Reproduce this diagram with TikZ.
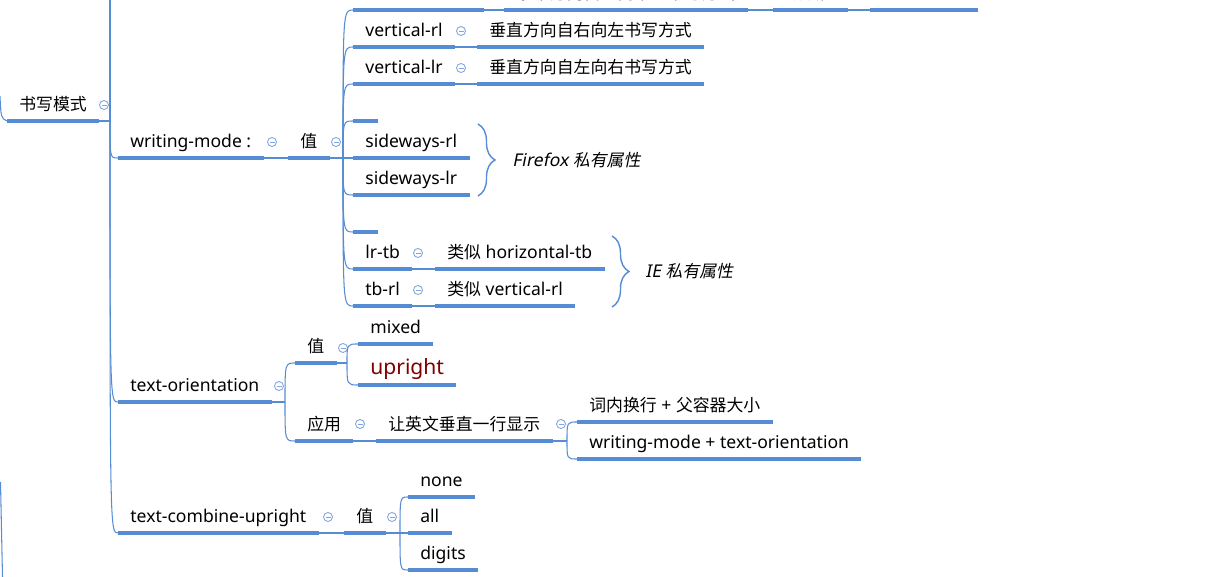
\documentclass[tikz,border=0pt]{standalone}
\usepackage{fontspec}
\setmainfont{Noto Sans}
\newfontfamily\cjk{Noto Sans CJK SC}[Scale=0.96]
\newfontfamily\cjkslant{Noto Sans CJK SC}[Scale=0.96, FakeSlant=0.2]
\newfontfamily\latslant{Noto Sans}[FakeSlant=0.2]
\usetikzlibrary{decorations.pathreplacing}
\definecolor{mapblue}{RGB}{86,140,212}
\definecolor{foldblue}{RGB}{130,165,225}
\definecolor{upred}{RGB}{128,0,0}
\newcommand{\zh}[1]{{\cjk #1}}

\begin{document}
\begin{tikzpicture}[
  x=0.02cm, y=-0.02cm,
  font=\fontsize{10}{12}\selectfont,
  topic/.style={anchor=south west, inner xsep=0.24cm, inner ysep=0.1cm,
                text height=0.3cm, text depth=0.1cm},
  blank/.style={topic, minimum width=0.44cm},
  uline/.style={draw=mapblue, line width=2.2pt},
  link/.style={draw=mapblue, line width=0.6pt},
  fold/.style={circle, draw=foldblue, line width=0.5pt, minimum size=0.18cm, inner sep=0pt,
               path picture={\draw[foldblue, line width=0.5pt]
                 ([xshift=-0.05cm]path picture bounding box.center) --
                 ([xshift=0.05cm]path picture bounding box.center);}},
  brace/.style={draw=mapblue, line width=0.8pt, decorate,
                decoration={brace, amplitude=0.34cm, aspect=0.5}},
  note/.style={anchor=west, inner sep=0pt}
]
\useasboundingbox (0,0) rectangle (1232,577);

% branch 书写模式
\node[topic] (root) at (7,121) {\zh{书写模式}};
\node[fold] (froot) at (104,105) {};
\coordinate (j1) at (110,121);
\coordinate (up1) at (110,-5);
\coordinate (in1) at (0,96);
\coordinate (in2) at (0.5,482);
\coordinate (in3) at (2.5,577);

% writing-mode
\node[topic] (wm) at (118,158) {writing-mode :};
\node[fold] (fwm) at (272,142) {};
\node[topic] (val1) at (288,158) {\zh{值}};
\node[fold] (fval1) at (336,142) {};
\coordinate (j3) at (343,158);

\node[topic] (ht) at (353,10) {horizontal-tb};
\node[topic] (htd) at (504,10) {\zh{水平方向自上而下的书写方式}};
\node[topic] (htdef) at (773,10) {\zh{默认值}};
\node[topic, minimum width=2.14cm] (htx) at (870,10) {};

\node[topic] (vrl) at (353,47) {vertical-rl};
\node[fold] (fvrl) at (461,31) {};
\node[topic] (vrld) at (477,47) {\zh{垂直方向自右向左书写方式}};
\node[topic] (vlr) at (353,84) {vertical-lr};
\node[fold] (fvlr) at (461,68) {};
\node[topic] (vlrd) at (477,84) {\zh{垂直方向自左向右书写方式}};
\node[blank] (e1) at (353,121) {};
\node[topic] (srl) at (353,158) {sideways-rl};
\node[topic] (slr) at (353,195) {sideways-lr};
\node[blank] (e2) at (353,232) {};
\node[topic] (lrtb) at (353,269) {lr-tb};
\node[fold] (flrtb) at (418,253) {};
\node[topic] (lrtbd) at (435,269) {\zh{类似} horizontal-tb};
\node[topic] (tbrl) at (353,306) {tb-rl};
\node[fold] (ftbrl) at (418,290) {};
\node[topic] (tbrld) at (435,306) {\zh{类似} vertical-rl};

\coordinate (bff1) at (478,124);
\coordinate (bff2) at (478,196);
\node[note] (ff) at (512,160) {{\latslant Firefox} {\cjkslant 私有属性}};
\coordinate (bie1) at (612,236);
\coordinate (bie2) at (612,307);
\node[note] (ie) at (645,271) {{\latslant IE} {\cjkslant 私有属性}};

% text-orientation
\node[topic] (to) at (118,402) {text-orientation};
\node[fold] (fto) at (279,386) {};
\coordinate (j4) at (285,402);
\node[topic] (val2) at (295,363) {\zh{值}};
\node[fold] (fval2) at (343,348) {};
\coordinate (j5) at (347,363);
\node[topic] (mixed) at (358,344) {mixed};
\node[topic, font=\fontsize{12}{14}\selectfont, text=upred] (upright) at (358,385) {upright};
\node[topic] (app) at (295,441) {\zh{应用}};
\node[fold] (fapp) at (360,424) {};
\node[topic] (show) at (376,441) {\zh{让英文垂直一行显示}};
\node[fold] (fshow) at (561,424) {};
\coordinate (j6) at (567,441);
\node[topic] (c1) at (577,422) {\zh{词内换行} + \zh{父容器大小}};
\node[topic] (c2) at (577,459) {writing-mode + text-orientation};

% text-combine-upright
\node[topic] (tcu) at (118,533) {text-combine-upright};
\node[fold] (ftcu) at (328,517) {};
\node[topic] (val3) at (344,533) {\zh{值}};
\node[fold] (fval3) at (392,517) {};
\coordinate (j7) at (400,533);
\node[topic] (none) at (408,497) {none};
\node[topic] (all) at (408,533) {all};
\node[topic] (digits) at (408,570) {digits};

% underlines
\foreach \n in {root,wm,val1,ht,htd,htdef,htx,vrl,vrld,vlr,vlrd,e1,srl,slr,e2,
                lrtb,lrtbd,tbrl,tbrld,to,val2,mixed,upright,app,show,c1,c2,
                tcu,val3,none,all,digits}
  \draw[uline] (\n.south west) -- (\n.south east);

% connectors
\draw[link] (in1) .. controls (1,118) .. (root.south west);
\draw[link] (in2) -- (in3);
\draw[link] (root.south east) -- (j1);
\draw[link] (j1) -- (up1);
\foreach \n in {wm,to,tcu}
  \draw[link] (j1) .. controls (j1 |- \n.south west) .. (\n.south west);
\draw[link] (wm.south east) -- (val1.south west);
\draw[link] (val1.south east) -- (j3);
\foreach \n in {ht,vrl,vlr,e1,srl,slr,e2,lrtb,tbrl}
  \draw[link] (j3) .. controls (j3 |- \n.south west) .. (\n.south west);
\draw[link] (ht.south east) -- (htd.south west);
\draw[link] (htd.south east) -- (htdef.south west);
\draw[link] (htdef.south east) -- (htx.south west);
\draw[link] (vrl.south east) -- (vrld.south west);
\draw[link] (vlr.south east) -- (vlrd.south west);
\draw[link] (lrtb.south east) -- (lrtbd.south west);
\draw[link] (tbrl.south east) -- (tbrld.south west);
\draw[brace] (bff1) -- (bff2);
\draw[brace] (bie1) -- (bie2);

\draw[link] (to.south east) -- (j4);
\foreach \n in {val2,app}
  \draw[link] (j4) .. controls (j4 |- \n.south west) .. (\n.south west);
\draw[link] (val2.south east) -- (j5);
\foreach \n in {mixed,upright}
  \draw[link] (j5) .. controls (j5 |- \n.south west) .. (\n.south west);
\draw[link] (app.south east) -- (show.south west);
\draw[link] (show.south east) -- (j6);
\foreach \n in {c1,c2}
  \draw[link] (j6) .. controls (j6 |- \n.south west) .. (\n.south west);

\draw[link] (tcu.south east) -- (val3.south west);
\draw[link] (val3.south east) -- (j7);
\foreach \n in {none,all,digits}
  \draw[link] (j7) .. controls (j7 |- \n.south west) .. (\n.south west);
\end{tikzpicture}
\end{document}
